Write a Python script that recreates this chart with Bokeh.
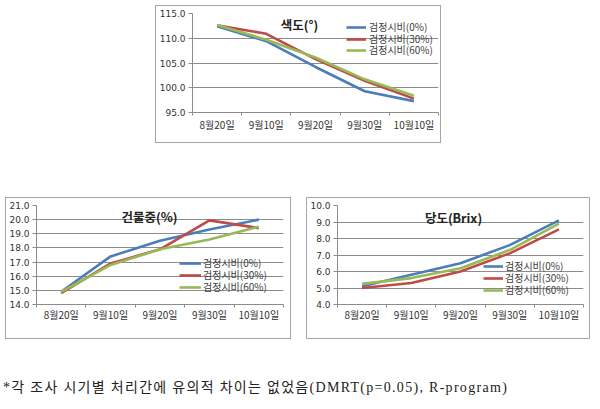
from bokeh.plotting import figure
from bokeh.models import (Range1d, FixedTicker, NumeralTickFormatter, Legend,
                          LegendItem, Label, Spacer, Div)
from bokeh.layouts import column, row
from bokeh.embed import file_html
from bokeh.resources import INLINE

# ---------------- data ----------------
dates = ["8월20일", "9월10일", "9월20일", "9월30일", "10월10일"]
series_names = ["검정시비(0%)", "검정시비(30%)", "검정시비(60%)"]

hue_0 = [112.4, 109.4, 104.2, 99.3, 97.3]
hue_30 = [112.6, 110.9, 105.8, 101.4, 97.8]
hue_60 = [112.7, 109.7, 106.1, 101.7, 98.4]
hue_ticks = [95.0, 100.0, 105.0, 110.0, 115.0]

dry_0 = [14.9, 17.4, 18.5, 19.3, 20.0]
dry_30 = [14.8, 16.9, 17.9, 19.95, 19.4]
dry_60 = [14.9, 16.8, 17.9, 18.6, 19.5]
dry_ticks = [14.0, 15.0, 16.0, 17.0, 18.0, 19.0, 20.0, 21.0]

brix_0 = [5.1, 5.8, 6.5, 7.6, 9.1]
brix_30 = [5.0, 5.3, 6.0, 7.1, 8.55]
brix_60 = [5.25, 5.6, 6.2, 7.3, 8.9]
brix_ticks = [4.0, 5.0, 6.0, 7.0, 8.0, 9.0, 10.0]

titles = ["색도(°)", "건물중(%)", "당도(Brix)"]
footnote = "*각 조사 시기별 처리간에 유의적 차이는 없었음(DMRT(p=0.05), R-program)"

colors = ["#4A7EBB", "#BE4B48", "#98B954"]
GRID = "#8c8c8c"
KFONT = "Noto Sans CJK KR"


def make_chart(w, h, borders, yticks, series, title, title_xy, leg_x, leg_ys,
               glyph_w, standoff, x_standoff):
    left, right, top, bottom = borders
    n = len(dates)
    xs = list(range(n))
    p = figure(width=w, height=h, output_backend="svg", toolbar_location=None,
               x_range=Range1d(-0.5, n - 0.5),
               y_range=Range1d(yticks[0], yticks[-1]),
               min_border_left=left, min_border_right=right,
               min_border_top=top, min_border_bottom=bottom,
               outline_line_color=None,
               styles={"border": "1px solid #a6a6a6", "box-sizing": "border-box"})
    # x axis: labels at category centres, ticks between categories
    xa = p.xaxis[0]
    xa.ticker = FixedTicker(ticks=xs, minor_ticks=[i - 0.5 for i in range(n + 1)])
    xa.major_label_overrides = {i: d for i, d in enumerate(dates)}
    xa.major_tick_out = 0
    xa.major_tick_in = 0
    xa.minor_tick_out = 3
    xa.minor_tick_in = 0
    xa.minor_tick_line_color = GRID
    xa.axis_line_color = GRID
    xa.major_label_text_font = KFONT
    xa.major_label_text_font_size = "10px"
    xa.major_label_text_color = "#333333"
    xa.major_label_standoff = x_standoff
    # y axis
    ya = p.yaxis[0]
    ya.ticker = FixedTicker(ticks=yticks)
    ya.formatter = NumeralTickFormatter(format="0.0")
    ya.major_tick_out = 4
    ya.major_tick_in = 0
    ya.minor_tick_out = 0
    ya.minor_tick_in = 0
    ya.major_tick_line_color = GRID
    ya.axis_line_color = GRID
    ya.major_label_text_font = "DejaVu Sans"
    ya.major_label_text_font_size = "9px"
    ya.major_label_text_color = "#333333"
    ya.major_label_standoff = 3
    p.xgrid.grid_line_color = None
    p.ygrid.ticker = FixedTicker(ticks=yticks)
    p.ygrid.grid_line_color = GRID
    p.background_fill_color = "white"
    p.border_fill_color = "white"

    for name, vals, c, ly in zip(series_names, series, colors, leg_ys):
        r = p.line(xs, vals, line_color=c, line_width=2.6)
        leg = Legend(items=[LegendItem(label=name, renderers=[r])],
                     location=(leg_x, ly), padding=0, margin=0, spacing=0,
                     glyph_width=glyph_w, glyph_height=12, label_height=12,
                     label_standoff=standoff,
                     label_text_font=KFONT, label_text_font_size="10px",
                     label_text_color="#404040",
                     background_fill_alpha=0, border_line_alpha=0)
        p.add_layout(leg, "center")
    p.add_layout(Label(x=title_xy[0], y=title_xy[1], x_units="screen",
                       y_units="screen", text=title, text_align="center",
                       text_baseline="middle", text_font=KFONT,
                       text_font_size="12.5px", text_font_style="bold",
                       text_color="#222222"))
    return p


p_top = make_chart(286, 138, (35, 4, 7, 32), hue_ticks,
                   [hue_0, hue_30, hue_60], titles[0], (107, 88), 154,
                   (78, 66, 55), 20, 3, 1)
p_dry = make_chart(286, 142, (30, 9, 7, 35), dry_ticks,
                   [dry_0, dry_30, dry_60], titles[1], (113, 88), 143,
                   (34, 22, 10), 22, 2, -1)
p_brix = make_chart(284, 142, (28, 8, 7, 36), brix_ticks,
                    [brix_0, brix_30, brix_60], titles[2], (116, 87), 146,
                    (31, 19, 7), 20, 2, -1)

note = Div(text=footnote, width=595, height=20,
           styles={"font-family": "'Liberation Serif', 'Noto Sans CJK KR', serif",
                   "font-size": "14px", "color": "#222222",
                   "letter-spacing": "1.3px",
                   "white-space": "nowrap", "margin-left": "3px"})

layout = column(
    Spacer(width=10, height=5),
    row(Spacer(width=155, height=138), p_top),
    Spacer(width=10, height=54),
    row(Spacer(width=5, height=142), p_dry, Spacer(width=15, height=142), p_brix),
    Spacer(width=10, height=34),
    note,
)

open("out.html", "w").write(file_html(layout, INLINE))
